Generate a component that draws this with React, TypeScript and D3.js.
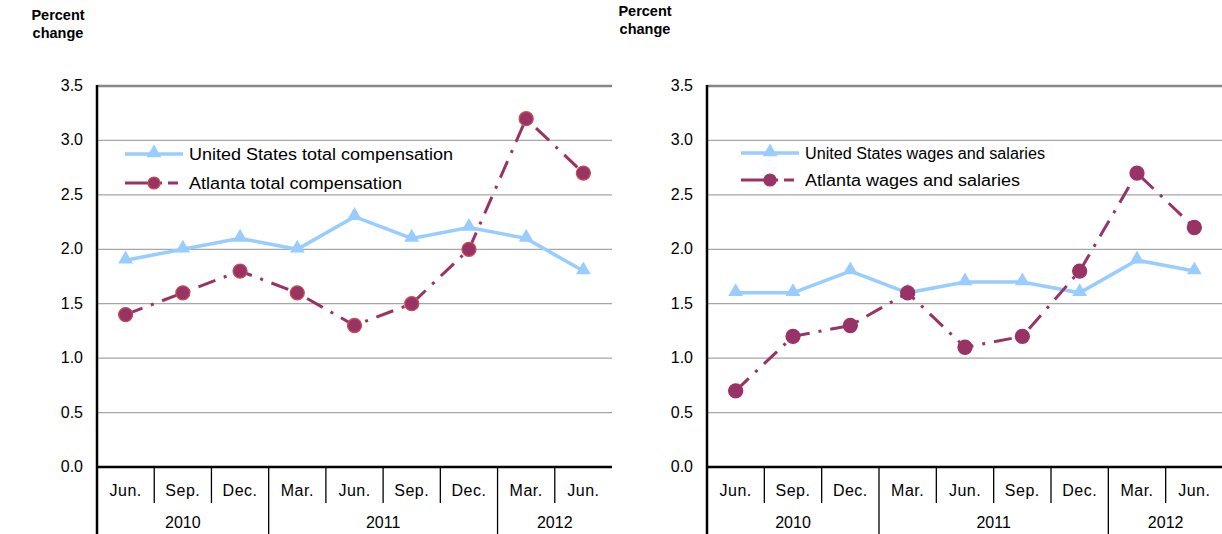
import React, { useEffect, useRef } from "react";
import * as d3 from "d3";

const months = ["Jun.", "Sep.", "Dec.", "Mar.", "Jun.", "Sep.", "Dec.", "Mar.", "Jun."];
const years = ["2010", "2011", "2012"];
const yearSpans = [[0, 3], [3, 7], [7, 9]];
const yTicks = [0, 0.5, 1.0, 1.5, 2.0, 2.5, 3.0, 3.5];

const usTotal = [1.9, 2.0, 2.1, 2.0, 2.3, 2.1, 2.2, 2.1, 1.8];
const atlTotal = [1.4, 1.6, 1.8, 1.6, 1.3, 1.5, 2.0, 3.2, 2.7];
const usWages = [1.6, 1.6, 1.8, 1.6, 1.7, 1.7, 1.6, 1.9, 1.8];
const atlWages = [0.7, 1.2, 1.3, 1.6, 1.1, 1.2, 1.8, 2.7, 2.2];

const usName = ["United States total compensation", "United States wages and salaries"];
const atlName = ["Atlanta total compensation", "Atlanta wages and salaries"];

const US_COLOR = "#99ccff";
const ATL_COLOR = "#993366";
const FONT = "Arial, 'Liberation Sans', sans-serif";

const panels = [
  { x0: 97, x1: 612, titleX: 58, titleY: 20, us: usTotal, atl: atlTotal, lx: 125, ly: 154, lgap: 29, usW: 264, atlW: 213, outline: true },
  { x0: 707, x1: 1223, titleX: 645, titleY: 16, us: usWages, atl: atlWages, lx: 741, ly: 153, lgap: 27, usW: 240, atlW: 215, outline: false },
];

const App = () => {
  const ref = useRef(null);

  useEffect(() => {
    const svg = d3.select(ref.current);
    svg.selectAll("*").remove();

    const y = d3.scaleLinear().domain([0, 3.5]).range([467, 86]);
    const tri = d3.symbol().type(d3.symbolTriangle).size(95);

    panels.forEach((p, pi) => {
      const g = svg.append("g").style("font-family", FONT);
      const x = d3.scaleBand().domain(months.map((m, i) => String(i))).range([p.x0, p.x1]).padding(0);
      const cx = (i) => x(String(i)) + x.bandwidth() / 2;

      // title
      const t = g.append("text")
        .attr("x", p.titleX).attr("y", p.titleY)
        .attr("text-anchor", "middle")
        .style("font-weight", "bold").style("font-size", "14.5px").style("fill", "#000");
      t.append("tspan").attr("x", p.titleX).attr("dy", 0).text("Percent");
      t.append("tspan").attr("x", p.titleX).attr("dy", 18).text("change");

      // gridlines
      g.selectAll(".grid").data(yTicks.filter((d) => d > 0)).join("line")
        .attr("x1", p.x0).attr("x2", p.x1)
        .attr("y1", (d) => y(d)).attr("y2", (d) => y(d))
        .attr("stroke", (d) => (d === 3.5 ? "#868686" : "#a6a6a6"))
        .attr("stroke-width", (d) => (d === 3.5 ? 2.5 : 1.3));

      // y labels
      g.selectAll(".ylab").data(yTicks).join("text")
        .attr("x", p.x0 - 14).attr("y", (d) => y(d) + 5)
        .attr("text-anchor", "end").style("font-size", "16px").style("fill", "#000")
        .text((d) => d.toFixed(1));

      // axes
      g.append("line").attr("x1", p.x0).attr("x2", p.x1).attr("y1", 467).attr("y2", 467)
        .attr("stroke", "#000").attr("stroke-width", 2.5);
      g.append("line").attr("x1", p.x0).attr("x2", p.x0).attr("y1", 85).attr("y2", 534)
        .attr("stroke", "#000").attr("stroke-width", 2.5);

      // category separators
      const bounds = d3.range(1, months.length);
      g.selectAll(".sep").data(bounds).join("line")
        .attr("x1", (i) => x(String(i))).attr("x2", (i) => x(String(i)))
        .attr("y1", 467)
        .attr("y2", (i) => (yearSpans.some((s) => s[0] === i) ? 534 : 503))
        .attr("stroke", "#000").attr("stroke-width", 1.3);

      g.selectAll(".mlab").data(months).join("text")
        .attr("x", (d, i) => cx(i)).attr("y", 496)
        .attr("text-anchor", "middle").style("font-size", "16px").style("fill", "#000")
        .style("letter-spacing", "0.5px")
        .text((d) => d);

      g.selectAll(".ylabel").data(years).join("text")
        .attr("x", (d, i) => (x(String(yearSpans[i][0])) + x(String(yearSpans[i][1] - 1)) + x.bandwidth()) / 2)
        .attr("y", 528)
        .attr("text-anchor", "middle").style("font-size", "16px").style("fill", "#000")
        .text((d) => d);

      // lines
      const line = d3.line().x((d, i) => cx(i)).y((d) => y(d));
      g.append("path").attr("d", line(p.us)).attr("fill", "none")
        .attr("stroke", US_COLOR).attr("stroke-width", 3.5);
      g.selectAll(".tri").data(p.us).join("path")
        .attr("d", tri).attr("transform", (d, i) => `translate(${cx(i)},${y(d) - 1})`)
        .attr("fill", US_COLOR);

      g.append("path").attr("d", line(p.atl)).attr("fill", "none")
        .attr("stroke", ATL_COLOR).attr("stroke-width", 3)
        .attr("stroke-dasharray", "18,9,3,9");
      g.selectAll(".dot").data(p.atl).join("circle")
        .attr("cx", (d, i) => cx(i)).attr("cy", (d) => y(d)).attr("r", 7)
        .attr("fill", ATL_COLOR)
        .attr("stroke", p.outline ? "#c0504d" : ATL_COLOR).attr("stroke-width", 1.3);

      // legend
      g.append("line").attr("x1", p.lx).attr("x2", p.lx + 58).attr("y1", p.ly).attr("y2", p.ly)
        .attr("stroke", US_COLOR).attr("stroke-width", 3.5);
      g.append("path").attr("d", tri).attr("transform", `translate(${p.lx + 29},${p.ly - 1})`)
        .attr("fill", US_COLOR);
      g.append("text").attr("x", p.lx + 64).attr("y", p.ly + 6)
        .attr("textLength", p.usW).attr("lengthAdjust", "spacingAndGlyphs")
        .style("font-size", "16px").style("fill", "#000").text(usName[pi]);

      const ly2 = p.ly + p.lgap;
      g.append("line").attr("x1", p.lx).attr("x2", p.lx + 58).attr("y1", ly2).attr("y2", ly2)
        .attr("stroke", ATL_COLOR).attr("stroke-width", 3)
        .attr("stroke-dasharray", "29,6,2,6,10");
      g.append("circle").attr("cx", p.lx + 29).attr("cy", ly2).attr("r", 6)
        .attr("fill", ATL_COLOR)
        .attr("stroke", p.outline ? "#c0504d" : ATL_COLOR).attr("stroke-width", 1.2);
      g.append("text").attr("x", p.lx + 64).attr("y", ly2 + 6)
        .attr("textLength", p.atlW).attr("lengthAdjust", "spacingAndGlyphs")
        .style("font-size", "16px").style("fill", "#000").text(atlName[pi]);
    });
  }, []);

  return (
    <div style={{ position: "absolute", left: 0, top: 0 }}>
      <svg ref={ref} width={1222} height={534} style={{ display: "block", background: "#fff" }} />
    </div>
  );
};

export default App;
